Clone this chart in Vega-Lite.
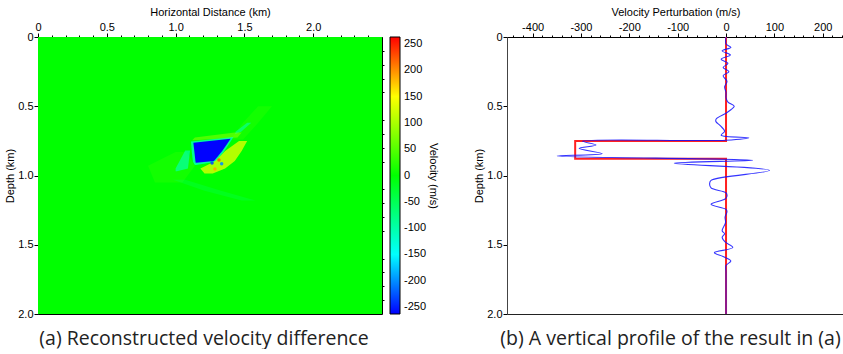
{
  "$schema": "https://vega.github.io/schema/vega-lite/v6.json",
  "padding": {"left": 4, "top": 5, "right": 0, "bottom": 0},
  "background": "white",
  "config": {
    "font": "Liberation Sans",
    "view": {"stroke": "#000", "strokeWidth": 1},
    "axis": {"labelFontSize": 11, "titleFontSize": 11, "titleFontWeight": "normal", "labelColor": "#000", "titleColor": "#000", "domainColor": "#000", "tickColor": "#000", "grid": false, "labelPadding": 1}
  },
  "resolve": {"scale": {"color": "independent"}, "legend": {"color": "independent"}},
  "datasets": {
    "bg": [{"x0": 0, "x1": 2.5, "y0": 0, "y1": 2, "v": 0}],
    "faint": [
      {"id": "f1", "y": 0.50, "xl": 1.60, "xr": 1.70, "v": 60},
      {"id": "f1", "y": 0.62, "xl": 1.49, "xr": 1.60, "v": 60},
      {"id": "f1", "y": 0.74, "xl": 1.40, "xr": 1.49, "v": 60},
      {"id": "f2", "y": 0.83, "xl": 1.00, "xr": 1.08, "v": 60},
      {"id": "f2", "y": 0.93, "xl": 0.80, "xr": 1.14, "v": 60},
      {"id": "f2", "y": 1.05, "xl": 0.85, "xr": 1.05, "v": 60},
      {"id": "f3", "y": 1.03, "xl": 0.98, "xr": 1.07, "v": -90},
      {"id": "f3", "y": 1.11, "xl": 1.21, "xr": 1.33, "v": -90},
      {"id": "f3", "y": 1.18, "xl": 1.48, "xr": 1.58, "v": -90}
    ],
    "streak": [
      {"id": "c1", "y": 0.82, "xl": 1.070, "xr": 1.105, "v": -140},
      {"id": "c1", "y": 0.95, "xl": 1.00, "xr": 1.09, "v": -140},
      {"id": "c1", "y": 0.97, "xl": 1.00, "xr": 1.01, "v": -140},
      {"id": "c2", "y": 0.62, "xl": 1.52, "xr": 1.55, "v": -120},
      {"id": "c2", "y": 0.68, "xl": 1.44, "xr": 1.48, "v": -120},
      {"id": "c2", "y": 0.70, "xl": 1.43, "xr": 1.44, "v": -120},
      {"id": "y2", "y": 0.69, "xl": 1.43, "xr": 1.48, "v": 90},
      {"id": "y2", "y": 0.725, "xl": 1.14, "xr": 1.45, "v": 90},
      {"id": "y2", "y": 0.745, "xl": 1.12, "xr": 1.14, "v": 90}
    ],
    "halo": [
      {"id": "h", "y": 0.722, "xl": 1.42, "xr": 1.42, "v": -150},
      {"id": "h", "y": 0.755, "xl": 1.112, "xr": 1.40, "v": -150},
      {"id": "h", "y": 0.830, "xl": 1.118, "xr": 1.35, "v": -150},
      {"id": "h", "y": 0.900, "xl": 1.126, "xr": 1.29, "v": -150},
      {"id": "h", "y": 0.925, "xl": 1.14, "xr": 1.15, "v": -150}
    ],
    "yellow": [
      {"id": "y1", "y": 0.751, "xl": 1.461, "xr": 1.52, "v": 140},
      {"id": "y1", "y": 0.823, "xl": 1.36, "xr": 1.48, "v": 140},
      {"id": "y1", "y": 0.895, "xl": 1.29, "xr": 1.43, "v": 140},
      {"id": "y1", "y": 0.950, "xl": 1.18, "xr": 1.36, "v": 140},
      {"id": "y1", "y": 0.985, "xl": 1.21, "xr": 1.27, "v": 140}
    ],
    "block": [
      {"id": "b", "y": 0.734, "xl": 1.400, "xr": 1.400, "v": -262},
      {"id": "b", "y": 0.763, "xl": 1.129, "xr": 1.380, "v": -262},
      {"id": "b", "y": 0.823, "xl": 1.136, "xr": 1.339, "v": -262},
      {"id": "b", "y": 0.895, "xl": 1.144, "xr": 1.279, "v": -262},
      {"id": "b", "y": 0.908, "xl": 1.146, "xr": 1.150, "v": -262}
    ],
    "dots": [
      {"x": 1.315, "y": 0.888, "v": 220},
      {"x": 1.286, "y": 0.953, "v": 190},
      {"x": 1.265, "y": 0.910, "v": -230},
      {"x": 1.335, "y": 0.915, "v": -200}
    ],
    "red": [
      {"i": 0, "v": 0, "d": 0},
      {"i": 1, "v": 0, "d": 0.751},
      {"i": 2, "v": -312, "d": 0.751},
      {"i": 3, "v": -312, "d": 0.879},
      {"i": 4, "v": 0, "d": 0.879},
      {"i": 5, "v": 0, "d": 2.0}
    ],
    "blue": [
      {"i": 0, "v": 0, "d": 0.0}, {"i": 1, "v": 0, "d": 0.05}, {"i": 2, "v": 10, "d": 0.075},
      {"i": 3, "v": -8, "d": 0.10}, {"i": 4, "v": 9, "d": 0.13}, {"i": 5, "v": -10, "d": 0.16},
      {"i": 6, "v": 4, "d": 0.19}, {"i": 7, "v": -6, "d": 0.22}, {"i": 8, "v": 6, "d": 0.25},
      {"i": 9, "v": -6, "d": 0.28}, {"i": 10, "v": 2, "d": 0.32}, {"i": 11, "v": -3, "d": 0.36},
      {"i": 12, "v": 0, "d": 0.40}, {"i": 13, "v": 0, "d": 0.44}, {"i": 14, "v": 4, "d": 0.47},
      {"i": 15, "v": 17, "d": 0.50}, {"i": 16, "v": 10, "d": 0.525}, {"i": 17, "v": 0, "d": 0.55},
      {"i": 18, "v": -20, "d": 0.59}, {"i": 19, "v": -21, "d": 0.61}, {"i": 20, "v": -12, "d": 0.64},
      {"i": 21, "v": -3, "d": 0.68}, {"i": 22, "v": -10, "d": 0.71}, {"i": 23, "v": 47, "d": 0.727},
      {"i": 24, "v": 0, "d": 0.745}, {"i": 25, "v": -297, "d": 0.752}, {"i": 26, "v": -269, "d": 0.78},
      {"i": 27, "v": -304, "d": 0.804}, {"i": 28, "v": -256, "d": 0.842}, {"i": 29, "v": -349, "d": 0.859},
      {"i": 30, "v": 55, "d": 0.89}, {"i": 31, "v": -107, "d": 0.912}, {"i": 32, "v": 90, "d": 0.963},
      {"i": 33, "v": -31, "d": 1.035}, {"i": 34, "v": -34, "d": 1.06}, {"i": 35, "v": -31, "d": 1.09},
      {"i": 36, "v": 0, "d": 1.125}, {"i": 37, "v": 2, "d": 1.15}, {"i": 38, "v": -2, "d": 1.17},
      {"i": 39, "v": -31, "d": 1.208}, {"i": 40, "v": 0, "d": 1.245}, {"i": 41, "v": 2, "d": 1.26},
      {"i": 42, "v": -2, "d": 1.30}, {"i": 43, "v": -1, "d": 1.34}, {"i": 44, "v": -8, "d": 1.40},
      {"i": 45, "v": -3, "d": 1.42}, {"i": 46, "v": -8, "d": 1.446}, {"i": 47, "v": -2, "d": 1.48},
      {"i": 48, "v": 14, "d": 1.52}, {"i": 49, "v": -24, "d": 1.557}, {"i": 50, "v": -6, "d": 1.585},
      {"i": 51, "v": 10, "d": 1.617}, {"i": 52, "v": 0, "d": 1.65}, {"i": 53, "v": 0, "d": 1.70},
      {"i": 54, "v": 0, "d": 2.0}
    ]
  },
  "hconcat": [
    {
      "width": 344,
      "height": 277,
      "title": {"text": "(a) Reconstructed velocity difference", "orient": "bottom", "anchor": "middle", "offset": 11, "dx": -6, "font": "Open Sans", "fontSize": 19.5, "fontWeight": "normal", "color": "#222"},
      "resolve": {"axis": {"x": "independent", "y": "independent"}},
      "layer": [
        {
          "data": {"name": "bg"},
          "mark": {"type": "rect", "opacity": 1},
          "encoding": {
            "x": {"field": "x0", "type": "quantitative", "scale": {"domain": [0, 2.5], "nice": false, "zero": false},
              "axis": {"orient": "top", "values": [0, 0.5, 1, 1.5, 2], "labelExpr": "datum.value == 0 ? '0' : format(datum.value, '.1f')", "title": "Horizontal Distance (km)", "tickSize": 4, "titlePadding": 4, "labelFlush": false}},
            "x2": {"field": "x1"},
            "y": {"field": "y0", "type": "quantitative", "scale": {"domain": [0, 2], "nice": false, "zero": false, "reverse": true},
              "axis": {"values": [0, 0.5, 1, 1.5, 2], "labelExpr": "datum.value == 0 ? '0' : format(datum.value, '.1f')", "title": "Depth (km)", "tickSize": 4, "titlePadding": 2, "labelFlush": false}},
            "y2": {"field": "y1"},
            "color": {"field": "v", "type": "quantitative",
              "scale": {"domain": [-263, -150, 0, 150, 263], "range": ["#0000ff", "#00ffff", "#00ff00", "#ffff00", "#ff0000"], "interpolate": "rgb"},
              "legend": {"orient": "right", "offset": 5, "direction": "vertical", "gradientLength": 277, "gradientThickness": 10, "gradientStrokeColor": "#000", "gradientStrokeWidth": 1, "gradientOpacity": 1,
                "values": [250, 200, 150, 100, 50, 0, -50, -100, -150, -200, -250], "labelExpr": "'' + datum.value", "labelFontSize": 11, "labelOverlap": false, "labelOffset": 4, "labelColor": "#000",
                "title": "Velocity (m/s)", "titleOrient": "right", "titleAngle": 90, "titleAnchor": "middle", "titleFontSize": 11, "titleFontWeight": "normal", "titleColor": "#000", "titlePadding": 2}}
          }
        },
        {
          "data": {"name": "faint"},
          "mark": {"type": "area", "orient": "horizontal", "opacity": 0.18},
          "encoding": {
            "y": {"field": "y", "type": "quantitative", "axis": {"values": [0.1,0.2,0.3,0.4,0.6,0.7,0.8,0.9,1.1,1.2,1.3,1.4,1.6,1.7,1.8,1.9], "labels": false, "tickSize": 2, "title": null, "domain": false}},
            "x": {"field": "xl", "type": "quantitative", "stack": null, "axis": {"orient": "top", "values": [0.1,0.2,0.3,0.4,0.6,0.7,0.8,0.9,1.1,1.2,1.3,1.4,1.6,1.7,1.8,1.9,2.1,2.2,2.3,2.4], "labels": false, "tickSize": 2, "title": null, "domain": false}},
            "x2": {"field": "xr"},
            "detail": {"field": "id"},
            "color": {"field": "v", "type": "quantitative", "legend": null}
          }
        },
        {
          "data": {"name": "streak"},
          "mark": {"type": "area", "orient": "horizontal", "opacity": 0.5},
          "encoding": {
            "y": {"field": "y", "type": "quantitative", "axis": null},
            "x": {"field": "xl", "type": "quantitative", "stack": null, "axis": null},
            "x2": {"field": "xr"},
            "detail": {"field": "id"},
            "color": {"field": "v", "type": "quantitative", "legend": null}
          }
        },
        {
          "data": {"name": "halo"},
          "mark": {"type": "area", "orient": "horizontal", "opacity": 0.6},
          "encoding": {
            "y": {"field": "y", "type": "quantitative", "axis": null},
            "x": {"field": "xl", "type": "quantitative", "stack": null, "axis": null},
            "x2": {"field": "xr"},
            "detail": {"field": "id"},
            "color": {"field": "v", "type": "quantitative", "legend": null}
          }
        },
        {
          "data": {"name": "yellow"},
          "mark": {"type": "area", "orient": "horizontal", "opacity": 0.75},
          "encoding": {
            "y": {"field": "y", "type": "quantitative", "axis": null},
            "x": {"field": "xl", "type": "quantitative", "stack": null, "axis": null},
            "x2": {"field": "xr"},
            "detail": {"field": "id"},
            "color": {"field": "v", "type": "quantitative", "legend": null}
          }
        },
        {
          "data": {"name": "block"},
          "mark": {"type": "area", "orient": "horizontal", "opacity": 1},
          "encoding": {
            "y": {"field": "y", "type": "quantitative", "axis": null},
            "x": {"field": "xl", "type": "quantitative", "stack": null, "axis": null},
            "x2": {"field": "xr"},
            "detail": {"field": "id"},
            "color": {"field": "v", "type": "quantitative", "legend": null}
          }
        },
        {
          "data": {"name": "dots"},
          "mark": {"type": "point", "filled": true, "size": 12, "opacity": 0.9},
          "encoding": {
            "y": {"field": "y", "type": "quantitative", "axis": null},
            "x": {"field": "x", "type": "quantitative", "axis": null},
            "color": {"field": "v", "type": "quantitative", "legend": null}
          }
        }
      ]
    },
    {
      "width": 337,
      "height": 277,
      "view": {"stroke": "#222"},
      "title": {"text": "(b) A vertical profile of the result in (a)", "orient": "bottom", "anchor": "middle", "offset": 11, "dx": -5, "font": "Open Sans", "fontSize": 19.5, "fontWeight": "normal", "color": "#222"},
      "resolve": {"axis": {"x": "independent", "y": "independent"}},
      "layer": [
        {
          "data": {"name": "red"},
          "mark": {"type": "line", "color": "#ff2020", "strokeWidth": 2},
          "encoding": {
            "x": {"field": "v", "type": "quantitative", "scale": {"domain": [-453, 244], "nice": false, "zero": false},
              "axis": {"orient": "top", "values": [-400, -300, -200, -100, 0, 100, 200], "labelExpr": "'' + datum.value", "title": "Velocity Perturbation (m/s)", "tickSize": 4, "titlePadding": 4, "labelFlush": false}},
            "y": {"field": "d", "type": "quantitative", "scale": {"domain": [0, 2], "nice": false, "zero": false, "reverse": true},
              "axis": {"values": [0, 0.5, 1, 1.5, 2], "labelExpr": "datum.value == 0 ? '0' : format(datum.value, '.1f')", "title": "Depth (km)", "tickSize": 4, "titlePadding": 2, "labelFlush": false, "domainColor": "#444"}},
            "order": {"field": "i", "type": "quantitative"}
          }
        },
        {
          "data": {"name": "blue"},
          "mark": {"type": "line", "color": "#1010ff", "strokeWidth": 1.1, "opacity": 0.85, "interpolate": "catmull-rom"},
          "encoding": {
            "x": {"field": "v", "type": "quantitative",
              "axis": {"orient": "top", "values": [-440,-420,-380,-360,-340,-320,-280,-260,-240,-220,-180,-160,-140,-120,-80,-60,-40,-20,20,40,60,80,120,140,160,180,220,240], "labels": false, "tickSize": 2, "title": null, "domain": false}},
            "y": {"field": "d", "type": "quantitative",
              "axis": {"values": [0.1,0.2,0.3,0.4,0.6,0.7,0.8,0.9,1.1,1.2,1.3,1.4,1.6,1.7,1.8,1.9], "labels": false, "tickSize": 2, "title": null, "domain": false}},
            "order": {"field": "i", "type": "quantitative"}
          }
        }
      ]
    }
  ],
  "spacing": 33
}
